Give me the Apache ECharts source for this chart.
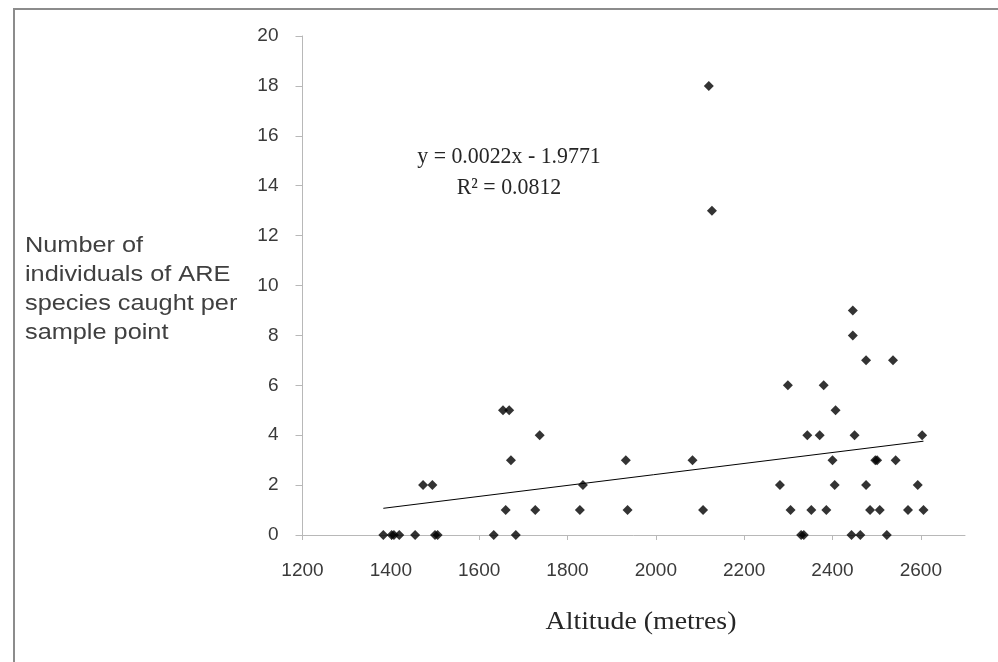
<!DOCTYPE html>
<html>
<head>
<meta charset="utf-8">
<script src="https://cdn.jsdelivr.net/npm/echarts@6/dist/echarts.min.js"></script>
<style>
  html, body { margin: 0; padding: 0; background: #fff; }
  #chart { width: 998px; height: 662px; }
</style>
</head>
<body>
<div id="chart"></div>
<script>
  // altitude (m) and catch per sample point
  const altitude = [
    1383, 1402, 1407, 1419, 1455, 1500, 1506, 1633, 1683, 2329, 2335, 2443, 2463, 2523,
    1660, 1727, 1828, 1936, 2107, 2305, 2352, 2386, 2485, 2507, 2571, 2606,
    1473, 1494, 1835, 2281, 2405, 2476, 2593,
    1672, 1932, 2083, 2400, 2497, 2501, 2543,
    1737, 2343, 2371, 2450, 2603,
    1654, 1668, 2407,
    2299, 2380,
    2476, 2537,
    2446, 2446,
    2127, 2120
  ]
  const caught = [
    0, 0, 0, 0, 0, 0, 0, 0, 0, 0, 0, 0, 0, 0,
    1, 1, 1, 1, 1, 1, 1, 1, 1, 1, 1, 1,
    2, 2, 2, 2, 2, 2, 2,
    3, 3, 3, 3, 3, 3, 3,
    4, 4, 4, 4, 4,
    5, 5, 5,
    6, 6,
    7, 7,
    8, 9,
    13, 18
  ]
  // linear trendline ends as drawn
  const trendX = [1383, 2606]
  const trendY = [1.07, 3.76]
  const equationLines = ['y = 0.0022x - 1.9771', 'R² = 0.0812']
  const yTitleLines = ['Number of', 'individuals of ARE', 'species caught per', 'sample point']

  const chart = echarts.init(document.getElementById('chart'))

  const sans = '"Liberation Sans", Arial, sans-serif'
  const serif = '"Liberation Serif", "Times New Roman", serif'

  const option = {
    backgroundColor: '#fff',
    animation: false,
    grid: { left: 302.5, right: 33, top: 36, bottom: 127 },
    xAxis: {
      type: 'value',
      min: 1200,
      max: 2700,
      interval: 200,
      splitLine: { show: false },
      axisLine: { onZero: false, lineStyle: { color: '#b8b8b8', width: 1 } },
      axisTick: { show: true, length: 5, lineStyle: { color: '#b8b8b8' } },
      axisLabel: {
        showMaxLabel: false,
        margin: 26,
        color: '#3a3a3a',
        fontFamily: sans,
        fontSize: 19,
        formatter: v => String(v)
      }
    },
    yAxis: {
      type: 'value',
      min: 0,
      max: 20,
      interval: 2,
      splitLine: { show: false },
      axisLine: { show: true, lineStyle: { color: '#b8b8b8', width: 1 } },
      axisTick: { show: true, length: 7, lineStyle: { color: '#b8b8b8' } },
      axisLabel: {
        margin: 24,
        color: '#3a3a3a',
        fontFamily: sans,
        fontSize: 19
      }
    },
    series: [
      {
        type: 'scatter',
        symbol: 'diamond',
        symbolSize: 10,
        itemStyle: { color: '#000' },
        data: altitude.map((a, i) => [a, caught[i]]),
        z: 3
      },
      {
        type: 'line',
        showSymbol: false,
        lineStyle: { color: '#000', width: 1 },
        data: trendX.map((a, i) => [a, trendY[i]]),
        z: 2
      }
    ],
    graphic: [
      // outer frame, its right and bottom edges fall outside the picture
      {
        type: 'rect',
        shape: { x: 14, y: 9, width: 1000, height: 700 },
        style: { fill: 'none', stroke: '#8c8c8c', lineWidth: 2 }
      },
      {
        type: 'text',
        x: 25,
        y: 231,
        scaleX: 1.15,
        style: {
          text: yTitleLines.join('\n'),
          font: '22px ' + sans,
          lineHeight: 29,
          fill: '#404040',
          textAlign: 'left',
          textVerticalAlign: 'top'
        }
      },
      {
        type: 'text',
        x: 509,
        y: 141,
        scaleX: 0.95,
        style: {
          text: equationLines.join('\n'),
          font: '23px ' + serif,
          lineHeight: 31,
          fill: '#262626',
          textAlign: 'center',
          textVerticalAlign: 'top'
        }
      },
      {
        type: 'text',
        x: 641,
        y: 609,
        scaleX: 1.07,
        style: {
          text: 'Altitude (metres)',
          font: '26px ' + serif,
          fill: '#262626',
          textAlign: 'center',
          textVerticalAlign: 'top'
        }
      }
    ]
  }

  chart.setOption(option)
</script>
</body>
</html>
